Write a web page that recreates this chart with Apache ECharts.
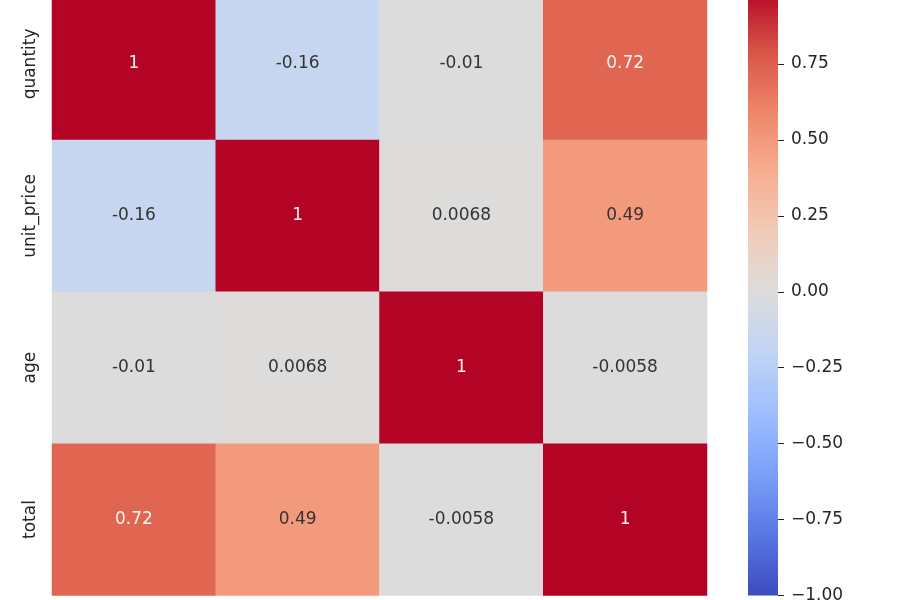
<!DOCTYPE html>
<html>
<head>
<meta charset="utf-8">
<script src="https://cdn.jsdelivr.net/npm/echarts@6/dist/echarts.min.js"></script>
<style>
  html, body { margin: 0; padding: 0; background: #fff; }
  #chart-container { width: 900px; height: 600px; }
</style>
</head>
<body>
<div id="chart-container"></div>
<script>
var dom = document.getElementById('chart-container');
var myChart = echarts.init(dom, null, { renderer: 'canvas' });

// correlation matrix
var columns = ['quantity', 'unit_price', 'age', 'total'];
var rowQuantity = [1, -0.16, -0.01, 0.72];
var rowUnitPrice = [-0.16, 1, 0.0068, 0.49];
var rowAge = [-0.01, 0.0068, 1, -0.0058];
var rowTotal = [0.72, 0.49, -0.0058, 1];
var matrix = [rowQuantity, rowUnitPrice, rowAge, rowTotal];

// colour bar ticks
var barMin = -1;
var barMax = 1;
var barStep = 0.25;

// coolwarm colormap, low to high
var coolwarm = ['#3b4cc0', '#5977e3', '#7b9ff9', '#9ebeff', '#c0d4f5', '#dddcdc',
  '#f2cbb7', '#f7ac8e', '#ee8468', '#d65244', '#b40426'];

var cells = [];
matrix.forEach(function (row, r) {
  row.forEach(function (v, c) {
    cells.push({
      value: [c, r, v],
      label: { color: v > 0.6 ? '#f5f5f5' : '#333333' }
    });
  });
});

var stops = coolwarm.slice().reverse().map(function (col, i) {
  return { offset: i / (coolwarm.length - 1), color: col };
});

var textColor = '#262626';
var fontFamily = 'DejaVu Sans';

var option = {
  backgroundColor: '#fff',
  animation: false,
  textStyle: { fontFamily: fontFamily },
  grid: [
    { left: 52, right: 193, top: -12, bottom: 4.5, containLabel: false, outerBoundsMode: 'none' },
    {
      left: 748, width: 30, top: -12, bottom: 4.5,
      containLabel: false, outerBoundsMode: 'none',
      show: true, borderWidth: 0,
      backgroundColor: new echarts.graphic.LinearGradient(0, 0, 0, 1, stops)
    }
  ],
  xAxis: [
    {
      type: 'category',
      gridIndex: 0,
      data: columns,
      axisLine: { show: false },
      axisTick: { alignWithLabel: true, length: 5, lineStyle: { color: textColor } },
      axisLabel: { color: textColor, fontSize: 17, fontFamily: fontFamily },
      splitLine: { show: false }
    },
    {
      type: 'value',
      gridIndex: 1,
      show: false
    }
  ],
  yAxis: [
    {
      type: 'category',
      gridIndex: 0,
      inverse: true,
      data: columns,
      axisLine: { show: false },
      axisTick: { alignWithLabel: true, length: 5, lineStyle: { color: textColor } },
      axisLabel: {
        color: textColor, fontSize: 17, fontFamily: fontFamily,
        rotate: 90, margin: 13
      },
      splitLine: { show: false }
    },
    {
      type: 'value',
      gridIndex: 1,
      position: 'right',
      min: barMin,
      max: barMax,
      interval: barStep,
      axisLine: { show: false, onZero: false },
      axisTick: { show: true, length: 6, lineStyle: { color: textColor } },
      splitLine: { show: false },
      axisLabel: {
        color: textColor, fontSize: 17, fontFamily: fontFamily, margin: 13,
        formatter: function (v) {
          return v.toFixed(2).replace('-', '\u2212');
        }
      }
    }
  ],
  visualMap: {
    show: false,
    min: barMin,
    max: barMax,
    dimension: 2,
    seriesIndex: 0,
    inRange: { color: coolwarm }
  },
  series: [
    {
      type: 'heatmap',
      xAxisIndex: 0,
      yAxisIndex: 0,
      data: cells,
      itemStyle: { borderWidth: 0 },
      label: {
        show: true,
        fontSize: 17,
        fontFamily: fontFamily,
        formatter: function (p) { return String(p.value[2]); }
      },
      emphasis: { disabled: true }
    }
  ]
};

myChart.setOption(option);
window.addEventListener('resize', myChart.resize);
</script>
</body>
</html>
